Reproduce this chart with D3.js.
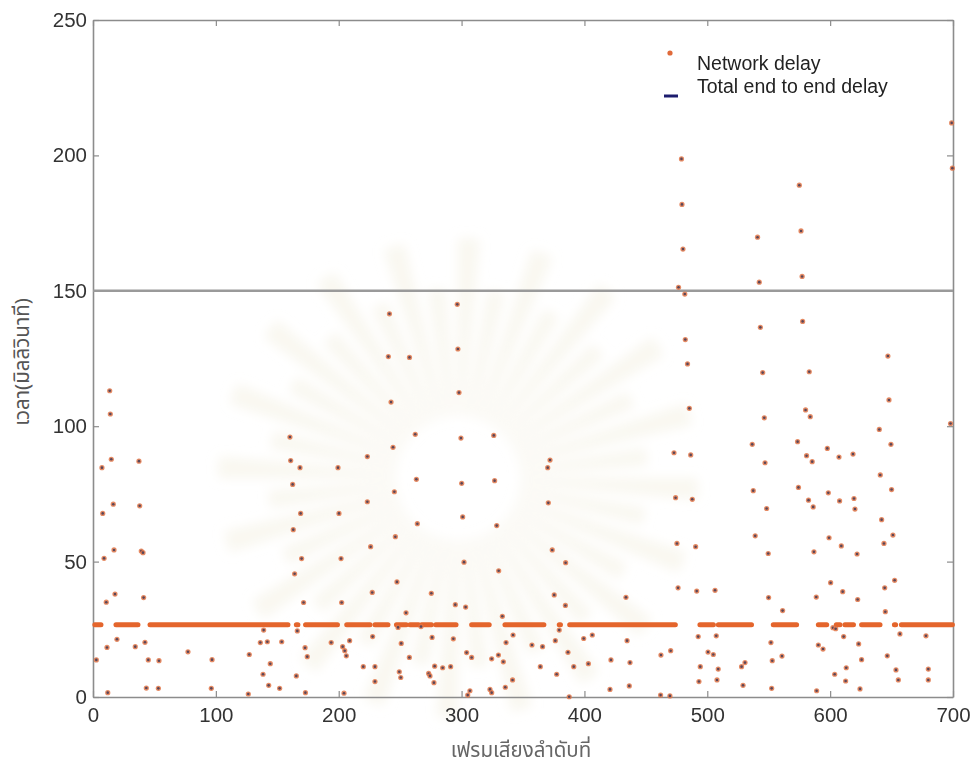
<!DOCTYPE html>
<html>
<head>
<meta charset="utf-8">
<script src="https://cdn.jsdelivr.net/npm/d3@7"></script>
<style>
  body { margin: 0; background: #fff; }
  #graph { width: 975px; height: 769px; }
  text { font-family: 'Liberation Sans', Arial, sans-serif; }
</style>
</head>
<body>
<div id="graph"></div>
<script>
// Values: frame number, delay in ms
const xTicks = [0, 100, 200, 300, 400, 500, 600, 700]
const yTicks = [0, 50, 100, 150, 200, 250]
const thresholdDelay = 150
const flatDelay = 26.7

// runs of frames that sit on the flat delay level (start frame, end frame)
const flatRuns = [
  [1.5, 6.5], [18.7, 36.6], [46.4, 158.7], [165.5, 166.8], [173, 199],
  [206.5, 225.5], [229.5, 240.1], [247, 255], [258, 265], [267.5, 275.5],
  [279, 295.5], [308.2, 322.5], [335.3, 367], [379.5, 380.5], [388, 474],
  [494, 505], [509, 536], [553.7, 572.7], [590.4, 597.2], [605, 608],
  [612, 619], [625.6, 640.6], [652.3, 653.3], [658, 699.5]
]

// scattered network delay points
const networkDelay = [
  [2.7, 13.7], [7.3, 84.7], [7.9, 67.8], [9, 51.2], [10.8, 35], [11.4, 18.3], [12, 1.6],
  [13.6, 113.1], [14.1, 104.5], [14.9, 87.8], [16.5, 71.2], [17.1, 54.3], [17.9, 38], [19.5, 21.3],
  [34.4, 18.6], [37.4, 87.1], [38, 70.6], [39.3, 53.9], [40.7, 53.3], [41.2, 36.7], [42.3, 20.2],
  [43.4, 3.3], [45, 13.7], [53.2, 3.2], [53.7, 13.4],
  [77.3, 16.7], [96.3, 3.2], [96.9, 13.8], [126.4, 1.1], [127.2, 15.7],
  [136.2, 20.1], [138.4, 8.4], [138.9, 24.7], [141.9, 20.4], [143, 4.3], [144.3, 12.3], [151.9, 3.2], [153.6, 20.4],
  [160.3, 96], [160.9, 87.3], [162.5, 78.5], [163, 61.8], [164.1, 45.5], [165.5, 7.8], [166.3, 24.4],
  [168.5, 84.7], [169, 67.8], [169.8, 51.1], [171.4, 34.9], [172.6, 18.2], [172.9, 1.6], [174.4, 14.9],
  [193.9, 20.1], [199.4, 84.7], [200.2, 67.8], [201.9, 51.1], [202.4, 34.9], [203.2, 18.6], [204.3, 1.4],
  [204.9, 17.1], [206.2, 15.2], [208.9, 20.8],
  [220, 11.2], [223.3, 88.8], [223.3, 72.1], [226, 55.5], [227.3, 38.6], [227.6, 22.3], [229.5, 11.2], [229.5, 5.7],
  [240.4, 125.7], [241.3, 141.5], [242.6, 108.9], [244.2, 92.2], [245.3, 75.8], [246.1, 59.2], [247.4, 42.5],
  [248.3, 25.7], [249.3, 9.3], [250.5, 7.2], [250.9, 19.8], [254.8, 31.1], [257.5, 14.6], [257.6, 125.4],
  [262.3, 97], [263.2, 80.4], [264, 64], [267, 26], [273.2, 8.7], [274.3, 7.8], [275.4, 38.3], [276, 22],
  [277.5, 5.3], [278.1, 11.4], [284.6, 10.8], [291.1, 11.2], [293.3, 21.5], [294.9, 34.1],
  [296.5, 145], [297, 128.5], [297.9, 112.4], [299.5, 95.6], [300.1, 78.9], [300.9, 66.5], [302, 49.8],
  [303.3, 33.2], [304.1, 16.4], [305, 0.7], [306.8, 2.3], [308.2, 14.6],
  [323.1, 2.8], [324.5, 1.6], [324.5, 14.1], [326.2, 96.6], [326.9, 79.9], [328.6, 63.3], [330, 15.5],
  [330.2, 46.6], [333.2, 29.8], [334, 13], [335.6, 3.6], [336.2, 20.1], [341.5, 6.3], [341.9, 22.9],
  [357.3, 19.2], [364.1, 11.2], [365.9, 18.6], [370.1, 84.7], [370.6, 71.7], [372, 87.5], [373.8, 54.3],
  [375.4, 37.7], [376.3, 20.8], [377.4, 8.4], [379.5, 24.7], [384.5, 33.8], [384.7, 49.6], [386.6, 16.5], [387.6, 0.1],
  [391.3, 11.2], [399.4, 21.6], [403.2, 12.3], [406.4, 22.9], [420.8, 2.8], [421.6, 13.7], [433.8, 36.8],
  [434.7, 20.8], [436.5, 4.1], [437.1, 12.7],
  [462, 0.7], [462.3, 15.5], [469.6, 0.4], [470.2, 17.1], [472.9, 90.2], [474.2, 73.6], [475.3, 56.7], [476.2, 40.3],
  [479, 198.7], [479.4, 181.9], [480.2, 165.4], [476.6, 151.3], [481.7, 148.8], [482.1, 132], [483.9, 123],
  [485.4, 106.6], [486.5, 89.4], [487.8, 73], [490.5, 55.5], [491.4, 39.1], [492.6, 22.3], [493.2, 5.7], [494.3, 11.2],
  [500.6, 16.6], [504.9, 15.7], [506.3, 39.4], [507.3, 22.6], [507.9, 6.3], [508.9, 10.3], [527.9, 11.2],
  [529.1, 4.3], [530.7, 12.7],
  [536.6, 93.3], [537.4, 76.2], [539, 59.5], [540.9, 169.8], [542.3, 153.2], [543.2, 136.5], [545.1, 119.8],
  [546.4, 103.1], [547, 86.5], [548.3, 69.6], [549.6, 53], [549.9, 36.7], [551.8, 20.1], [552.4, 3.2],
  [552.9, 13.4], [560.8, 15.1], [561.3, 31.9],
  [573.5, 94.3], [574.2, 77.4], [574.9, 189], [576.3, 172.1], [577.2, 155.3], [577.6, 138.7], [580, 106],
  [580.8, 89.1], [582.4, 72.7], [583, 120.1], [583.8, 103.5], [585.4, 86.9], [586.2, 70.2], [586.8, 53.6],
  [588.7, 36.9], [589, 2.3], [590.4, 19.2], [594.2, 17.7],
  [597.7, 91.8], [598.5, 75.4], [599.1, 58.8], [600.4, 42.2], [602.3, 25.6], [603.7, 8.4], [604.5, 25.2],
  [607.2, 88.6], [607.7, 72.4], [609.1, 55.8], [610.2, 38.9], [611, 22.3], [612.6, 5.9], [613.1, 10.8],
  [618.6, 89.7], [619.4, 73.3], [620.2, 69.4], [621.9, 52.8], [622.4, 36], [623.2, 19.6], [624.3, 3], [625.6, 13.8],
  [640, 98.8], [640.8, 82], [641.9, 65.5], [643.8, 56.7], [644.4, 40.3], [644.9, 31.5], [646.5, 15.2],
  [647, 125.9], [647.9, 109.7], [649.5, 93.3], [650, 76.6], [651.1, 59.8], [652.5, 43.1], [653.6, 10],
  [655.5, 6.3], [656.8, 23.3],
  [678, 22.6], [679.9, 10.3], [679.9, 6.3], [698.9, 212], [699.5, 195.3], [698, 101]
]

const legendLabels = ['Network delay', 'Total end to end delay']
const xTitle = 'เฟรมเสียงลำดับที่'
const yTitle = 'เวลา(มิลลิวินาที)'

// Set the dimensions and margins of the graph
const margin = { top: 20, right: 22, bottom: 72, left: 93 },
  width = 975 - margin.left - margin.right,
  height = 769 - margin.top - margin.bottom

const orange = '#e4652c'
const axisGray = '#8c8c8c'

const root = d3.select('#graph')
  .append('svg')
  .attr('width', 975)
  .attr('height', 769)

// faint seal watermark behind the plot (decoration only)
root.append('defs').append('filter')
  .attr('id', 'soft')
  .append('feGaussianBlur')
  .attr('stdDeviation', 6)

const seal = root.append('g')
  .attr('transform', 'translate(458,478)')
  .attr('filter', 'url(#soft)')
seal.selectAll('path')
  .data(d3.range(40))
  .join('path')
  .attr('d', d3.arc()
    .innerRadius(62)
    .outerRadius(function (d) { return d % 2 ? 190 : 240 })
    .startAngle(function (d) { return d * 2 * Math.PI / 40 })
    .endAngle(function (d) { return d * 2 * Math.PI / 40 + 0.09 }))
  .attr('fill', '#f3efe2')
  .attr('opacity', 0.5)

const svg = root.append('g')
  .attr('transform', 'translate(' + margin.left + ',' + margin.top + ')')

const x = d3.scaleLinear().domain([0, 700]).range([0, width])
const y = d3.scaleLinear().domain([0, 250]).range([height, 0])

// Axes, MATLAB style box with inward ticks
function styleAxis(g) {
  g.select('.domain').attr('stroke', axisGray).attr('stroke-width', 1.6)
  g.selectAll('.tick line').attr('stroke', axisGray).attr('stroke-width', 1.2)
  g.selectAll('.tick text')
    .attr('fill', '#333')
    .style('font-size', '20.5px')
    .style('font-family', "'Liberation Sans', Arial, sans-serif")
}

svg.append('g')
  .attr('transform', 'translate(0,' + height + ')')
  .call(d3.axisBottom(x).tickValues(xTicks).tickSizeInner(-6).tickSizeOuter(0).tickPadding(10))
  .call(styleAxis)

svg.append('g')
  .call(d3.axisLeft(y).tickValues(yTicks).tickSizeInner(-6).tickSizeOuter(0).tickPadding(6))
  .call(styleAxis)

svg.append('g')
  .call(d3.axisTop(x).tickValues(xTicks).tickSizeInner(-6).tickSizeOuter(0).tickFormat(''))
  .call(styleAxis)

svg.append('g')
  .attr('transform', 'translate(' + width + ',0)')
  .call(d3.axisRight(y).tickValues(yTicks).tickSizeInner(-6).tickSizeOuter(0).tickFormat(''))
  .call(styleAxis)

// 150 ms line
svg.append('line')
  .attr('x1', x(0))
  .attr('x2', x(700))
  .attr('y1', y(thresholdDelay))
  .attr('y2', y(thresholdDelay))
  .attr('stroke', '#9a9a9a')
  .attr('stroke-width', 2.5)

// flat delay level, drawn as dashes made of packed dots
svg.selectAll('.run')
  .data(flatRuns)
  .join('line')
  .attr('class', 'run')
  .attr('x1', function (d) { return x(d[0]) })
  .attr('x2', function (d) { return x(d[1]) })
  .attr('y1', y(flatDelay))
  .attr('y2', y(flatDelay))
  .attr('stroke', orange)
  .attr('stroke-width', 5)
  .attr('stroke-linecap', 'round')

// scattered points: orange halo with a dark centre
const dots = svg.selectAll('.pt')
  .data(networkDelay)
  .join('g')
  .attr('class', 'pt')
  .attr('transform', function (d) { return 'translate(' + x(d[0]) + ',' + y(d[1]) + ')' })
dots.append('circle').attr('r', 2.6).attr('fill', '#e07548').attr('opacity', 0.85)
dots.append('circle').attr('r', 1.3).attr('fill', '#5b4658')

// Legend
const legend = root.append('g')
legend.append('circle').attr('cx', 670).attr('cy', 53).attr('r', 2.6).attr('fill', '#e06a3a')
legend.append('line')
  .attr('x1', 664).attr('x2', 678).attr('y1', 96).attr('y2', 96)
  .attr('stroke', '#1c1c6e').attr('stroke-width', 3)
legend.selectAll('text')
  .data(legendLabels)
  .join('text')
  .attr('x', 697)
  .attr('y', function (d, i) { return 70 + i * 23 })
  .style('font-size', '19.5px')
  .attr('fill', '#222')
  .text(function (d) { return d })

// Axis titles
root.append('text')
  .attr('x', 521)
  .attr('y', 757)
  .style('text-anchor', 'middle')
  .style('font-size', '20.5px')
  .style('font-family', "'Noto Sans', 'Noto Sans Thai', sans-serif")
  .attr('fill', '#666')
  .text(xTitle)

root.append('text')
  .attr('transform', 'translate(29,362) rotate(-90)')
  .style('text-anchor', 'middle')
  .style('font-size', '20.5px')
  .style('font-family', "'Noto Sans', 'Noto Sans Thai', sans-serif")
  .attr('fill', '#555')
  .text(yTitle)
</script>
</body>
</html>
